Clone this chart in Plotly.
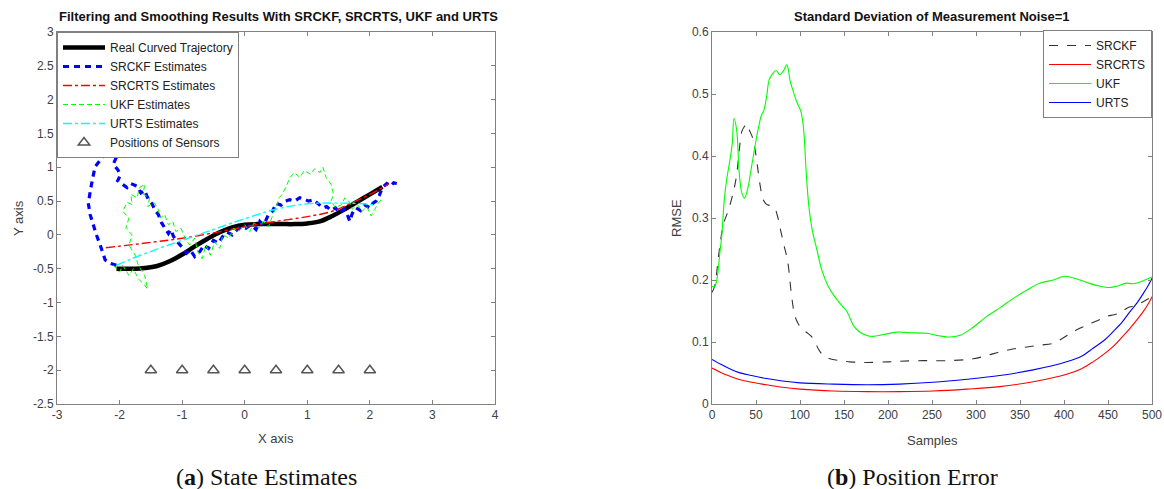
import plotly.graph_objects as go

# ---------------- Left panel data (state estimates) ----------------
real_x = [-2.05, -1.9, -1.75, -1.6, -1.4, -1.2, -1.0, -0.8, -0.6, -0.4, -0.2, 0.0, 0.2, 0.4, 0.6, 0.8, 1.0, 1.2, 1.4, 1.6, 1.8, 2.0, 2.2]
real_y = [-0.5, -0.5, -0.5, -0.49, -0.46, -0.39, -0.29, -0.17, -0.06, 0.04, 0.11, 0.15, 0.16, 0.16, 0.16, 0.16, 0.17, 0.2, 0.28, 0.38, 0.49, 0.6, 0.71]

srckf_x = [-2.05, -2.15, -2.23, -2.27, -2.31, -2.37, -2.42, -2.47, -2.5, -2.48, -2.45, -2.42, -2.39, -2.33, -2.29, -2.22, -2.15, -2.07, -2.12, -2.05, -2.1, -2.02, -1.99, -2.03, -1.94, -1.88, -1.82, -1.72, -1.66, -1.6, -1.54, -1.48, -1.43, -1.38, -1.33, -1.27, -1.22, -1.18, -1.14, -1.08, -1.0, -0.93, -0.87, -0.8, -0.72, -0.65, -0.58, -0.5, -0.42, -0.35, -0.28, -0.2, -0.12, -0.05, 0.02, 0.1, 0.18, 0.24, 0.3, 0.38, 0.45, 0.5, 0.58, 0.65, 0.72, 0.8, 0.88, 0.95, 1.02, 1.1, 1.18, 1.25, 1.31, 1.38, 1.45, 1.52, 1.58, 1.64, 1.68, 1.72, 1.78, 1.85, 1.92, 2.0, 2.05, 2.1, 2.15, 2.2, 2.27, 2.33, 2.38, 2.43]
srckf_y = [-0.45, -0.42, -0.37, -0.25, -0.15, 0.0, 0.14, 0.3, 0.47, 0.6, 0.74, 0.88, 1.01, 1.08, 1.13, 1.2, 1.28, 1.33, 1.2, 1.15, 1.05, 0.95, 0.88, 0.8, 0.74, 0.7, 0.76, 0.72, 0.62, 0.66, 0.52, 0.46, 0.36, 0.3, 0.18, 0.1, 0.02, 0.08, -0.02, -0.1, -0.18, -0.27, -0.22, -0.32, -0.25, -0.15, -0.2, -0.08, -0.12, -0.02, 0.04, 0.0, 0.08, 0.12, 0.1, 0.15, 0.08, 0.2, 0.14, 0.3, 0.36, 0.47, 0.44, 0.5, 0.52, 0.5, 0.55, 0.53, 0.5, 0.52, 0.45, 0.4, 0.42, 0.36, 0.4, 0.32, 0.38, 0.3, 0.2, 0.32, 0.4, 0.36, 0.44, 0.4, 0.47, 0.5, 0.58, 0.7, 0.76, 0.72, 0.77, 0.76]

srcrts_x = [-2.22, -1.5, -1.0, -0.5, 0.0, 0.5, 1.0, 1.4, 1.7, 2.0, 2.3]
srcrts_y = [-0.19, -0.11, -0.05, 0.03, 0.12, 0.2, 0.27, 0.35, 0.47, 0.6, 0.75]

ukf_x = [-2.1, -2.0, -1.95, -1.85, -1.78, -1.7, -1.62, -1.55, -1.6, -1.7, -1.75, -1.85, -1.8, -1.9, -1.85, -1.95, -1.88, -1.8, -1.82, -1.72, -1.68, -1.6, -1.62, -1.52, -1.55, -1.45, -1.38, -1.35, -1.28, -1.22, -1.15, -1.1, -1.02, -0.95, -0.88, -0.8, -0.75, -0.68, -0.62, -0.55, -0.48, -0.4, -0.35, -0.25, -0.18, -0.1, 0.0, 0.08, 0.15, 0.22, 0.3, 0.38, 0.45, 0.5, 0.55, 0.6, 0.68, 0.72, 0.8, 0.88, 0.95, 1.05, 1.12, 1.2, 1.25, 1.3, 1.38, 1.42, 1.38, 1.45, 1.55, 1.6, 1.68, 1.72, 1.8, 1.88, 1.95, 2.02, 2.08, 2.12, 2.18]
ukf_y = [-0.45, -0.55, -0.45, -0.6, -0.5, -0.65, -0.72, -0.8, -0.6, -0.45, -0.3, -0.15, 0.0, 0.1, 0.25, 0.35, 0.48, 0.45, 0.6, 0.55, 0.7, 0.75, 0.6, 0.55, 0.42, 0.48, 0.38, 0.25, 0.3, 0.15, 0.2, 0.05, 0.1, -0.05, -0.15, -0.05, -0.25, -0.35, -0.15, -0.3, -0.1, -0.2, 0.0, -0.05, 0.1, 0.05, 0.15, 0.05, 0.18, 0.1, 0.2, 0.12, 0.3, 0.4, 0.55, 0.6, 0.75, 0.85, 0.92, 0.85, 0.95, 0.9, 0.98, 0.92, 1.0, 0.85, 0.75, 0.6, 0.5, 0.4, 0.45, 0.55, 0.48, 0.38, 0.45, 0.35, 0.42, 0.28, 0.38, 0.45, 0.52]

urts_x = [-2.05, -1.8, -1.4, -1.0, -0.5, 0.0, 0.5, 1.0, 1.5, 1.9, 2.1]
urts_y = [-0.45, -0.35, -0.21, -0.08, 0.08, 0.24, 0.38, 0.46, 0.47, 0.46, 0.44]

sensor_x = [-1.5, -1.0, -0.5, 0.0, 0.5, 1.0, 1.5, 2.0]
sensor_y = [-2, -2, -2, -2, -2, -2, -2, -2]

left_xticks = [-3, -2, -1, 0, 1, 2, 3, 4]
left_xlabels = ["-3", "-2", "-1", "0", "1", "2", "3", "4"]
left_yticks = [-2.5, -2, -1.5, -1, -0.5, 0, 0.5, 1, 1.5, 2, 2.5, 3]
left_ylabels = ["-2.5", "-2", "-1.5", "-1", "-0.5", "0", "0.5", "1", "1.5", "2", "2.5", "3"]

# ---------------- Right panel data (RMSE) ----------------
ukf_s = [0, 3, 6, 9, 11, 14, 17, 20, 23, 25, 28, 31, 34, 37, 41, 44, 47, 50, 53, 56, 59, 62, 65, 69, 73, 77, 81, 85, 89, 93, 97, 101, 104, 107, 110, 114, 119, 125, 132, 140, 148, 153, 157, 161, 167, 175, 183, 195, 210, 225, 244, 258, 270, 282, 295, 312, 327, 342, 357, 373, 388, 401, 414, 428, 441, 452, 460, 471, 477, 485, 492, 500]
ukf_rmse = [0.19, 0.189, 0.205, 0.245, 0.27, 0.33, 0.365, 0.39, 0.42, 0.461, 0.442, 0.372, 0.34, 0.332, 0.35, 0.375, 0.40, 0.425, 0.447, 0.465, 0.474, 0.495, 0.523, 0.533, 0.538, 0.531, 0.537, 0.547, 0.52, 0.501, 0.485, 0.472, 0.445, 0.375, 0.32, 0.28, 0.25, 0.215, 0.19, 0.172, 0.158, 0.15, 0.138, 0.126, 0.117, 0.111, 0.109, 0.112, 0.116, 0.115, 0.114, 0.11, 0.108, 0.111, 0.122, 0.141, 0.155, 0.17, 0.183, 0.195, 0.2, 0.206, 0.202, 0.195, 0.19, 0.188, 0.19, 0.195, 0.194, 0.196, 0.2, 0.205]

srckf_s = [0, 3, 8, 13, 18, 24, 28, 31, 34, 37, 40, 43, 46, 49, 52, 55, 58, 62, 66, 71, 75, 78, 82, 86, 90, 93, 96, 100, 104, 108, 113, 117, 122, 127, 134, 145, 157, 175, 200, 214, 240, 270, 297, 312, 327, 343, 358, 373, 388, 403, 415, 426, 437, 448, 457, 464, 472, 479, 490, 500]
srckf_rmse = [0.18, 0.19, 0.245, 0.29, 0.31, 0.34, 0.37, 0.41, 0.44, 0.448, 0.452, 0.44, 0.43, 0.41, 0.38, 0.35, 0.33, 0.322, 0.32, 0.316, 0.3, 0.28, 0.255, 0.23, 0.18, 0.15, 0.135, 0.125, 0.119, 0.115, 0.109, 0.1, 0.086, 0.078, 0.073, 0.07, 0.068, 0.067, 0.068, 0.069, 0.07, 0.07, 0.073, 0.078, 0.084, 0.089, 0.092, 0.095, 0.098, 0.11, 0.12, 0.127, 0.134, 0.141, 0.144, 0.147, 0.155, 0.158, 0.165, 0.173]

smooth_s = [0, 10, 20, 30, 45, 62, 80, 100, 138, 176, 213, 251, 290, 327, 365, 403, 420, 433, 445, 456, 466, 475, 483, 490, 496, 500]
urts_rmse = [0.072, 0.064, 0.057, 0.051, 0.046, 0.041, 0.037, 0.034, 0.032, 0.031, 0.032, 0.035, 0.04, 0.046, 0.055, 0.068, 0.077, 0.09, 0.102, 0.117, 0.132, 0.149, 0.163, 0.178, 0.192, 0.203]
srcrts_rmse = [0.058, 0.051, 0.045, 0.04, 0.035, 0.031, 0.027, 0.024, 0.021, 0.02, 0.02, 0.021, 0.024, 0.028, 0.036, 0.048, 0.057, 0.068, 0.08, 0.093, 0.108, 0.122, 0.136, 0.149, 0.162, 0.173]

right_xticks = [0, 50, 100, 150, 200, 250, 300, 350, 400, 450, 500]
right_yticks = [0, 0.1, 0.2, 0.3, 0.4, 0.5, 0.6]
right_ylabels = ["0", "0.1", "0.2", "0.3", "0.4", "0.5", "0.6"]

W, H = 1164, 489
FONT = "Liberation Sans, Arial, sans-serif"
TICKC = "#404040"
AXC = "#808080"

def px(x):
    return x / W

def py(y):
    return 1 - y / H

fig = go.Figure()

# Left traces
fig.add_trace(go.Scatter(x=real_x, y=real_y, mode="lines", name="Real Curved Trajectory",
                         line=dict(color="black", width=4.5), line_shape="spline",
                         xaxis="x", yaxis="y", legend="legend"))
fig.add_trace(go.Scatter(x=srckf_x, y=srckf_y, mode="lines", name="SRCKF Estimates",
                         line=dict(color="#0000ff", width=3.2, dash="6px,5px"),
                         xaxis="x", yaxis="y", legend="legend"))
fig.add_trace(go.Scatter(x=srcrts_x, y=srcrts_y, mode="lines", name="SRCRTS Estimates",
                         line=dict(color="#ff0000", width=1.4, dash="dashdot"), line_shape="spline",
                         xaxis="x", yaxis="y", legend="legend"))
fig.add_trace(go.Scatter(x=ukf_x, y=ukf_y, mode="lines", name="UKF Estimates",
                         line=dict(color="#00ff00", width=1, dash="5px,3px"),
                         xaxis="x", yaxis="y", legend="legend"))
fig.add_trace(go.Scatter(x=urts_x, y=urts_y, mode="lines", name="URTS Estimates",
                         line=dict(color="#00ffff", width=1.4, dash="dashdot"), line_shape="spline",
                         xaxis="x", yaxis="y", legend="legend"))
fig.add_trace(go.Scatter(x=sensor_x, y=sensor_y, mode="markers", name="Positions of Sensors",
                         marker=dict(symbol="triangle-up-open", size=10, color="#555555",
                                     line=dict(width=1.5, color="#555555")),
                         xaxis="x", yaxis="y", legend="legend"))

# Right traces
fig.add_trace(go.Scatter(x=srckf_s, y=srckf_rmse, mode="lines", name="SRCKF",
                         line=dict(color="#333333", width=1.1, dash="dash"), line_shape="spline",
                         xaxis="x2", yaxis="y2", legend="legend2"))
fig.add_trace(go.Scatter(x=smooth_s, y=srcrts_rmse, mode="lines", name="SRCRTS",
                         line=dict(color="#ff0000", width=1.1), line_shape="spline",
                         xaxis="x2", yaxis="y2", legend="legend2"))
fig.add_trace(go.Scatter(x=ukf_s, y=ukf_rmse, mode="lines", name="UKF",
                         line=dict(color="#00ff00", width=1.1), line_shape="spline",
                         xaxis="x2", yaxis="y2", legend="legend2"))
fig.add_trace(go.Scatter(x=smooth_s, y=urts_rmse, mode="lines", name="URTS",
                         line=dict(color="#0000ff", width=1.1), line_shape="spline",
                         xaxis="x2", yaxis="y2", legend="legend2"))

axis_common = dict(showline=True, linecolor=AXC, linewidth=1, mirror="ticks", ticks="inside",
                   ticklen=4, tickcolor=AXC, showgrid=False, zeroline=False, automargin=False,
                   tickfont=dict(family=FONT, size=12, color=TICKC))

ydom = [py(404), py(32)]
fig.update_layout(
    width=W, height=H, margin=dict(l=0, r=0, t=0, b=0, pad=0, autoexpand=False),
    paper_bgcolor="white", plot_bgcolor="white",
    font=dict(family=FONT, size=12, color="#222222"),
    xaxis=dict(domain=[px(57), px(495)], range=[-3, 4], tickvals=left_xticks, ticktext=left_xlabels,
               anchor="y", **axis_common),
    yaxis=dict(domain=ydom, range=[-2.5, 3], tickvals=left_yticks, ticktext=left_ylabels,
               anchor="x", **axis_common),
    xaxis2=dict(domain=[px(712), px(1152)], range=[0, 500], tickvals=right_xticks,
                ticktext=[str(v) for v in right_xticks], anchor="y2", **axis_common),
    yaxis2=dict(domain=ydom, range=[0, 0.6], tickvals=right_yticks, ticktext=right_ylabels,
                anchor="x2", **axis_common),
    legend=dict(x=px(57), y=py(32), xanchor="left", yanchor="top", bgcolor="white",
                bordercolor=AXC, borderwidth=1, font=dict(family=FONT, size=12, color="#222222"),
                tracegroupgap=0, itemwidth=42),
    legend2=dict(x=px(1152), y=py(30), xanchor="right", yanchor="top", bgcolor="white",
                 bordercolor=AXC, borderwidth=1, font=dict(family=FONT, size=12, color="#222222"),
                 tracegroupgap=0, itemwidth=42),
    showlegend=True,
)

ann = []
ann.append(dict(text="<b>Filtering and Smoothing Results With SRCKF, SRCRTS, UKF and URTS</b>",
                x=px(278), y=py(17), xref="paper", yref="paper", showarrow=False,
                font=dict(family=FONT, size=13, color="#111111"), xanchor="center", yanchor="middle"))
ann.append(dict(text="<b>Standard Deviation of Measurement Noise=1</b>",
                x=px(932), y=py(17), xref="paper", yref="paper", showarrow=False,
                font=dict(family=FONT, size=13, color="#111111"), xanchor="center", yanchor="middle"))
ann.append(dict(text="X axis", x=px(276), y=py(438), xref="paper", yref="paper", showarrow=False,
                font=dict(family=FONT, size=13, color="#404040"), xanchor="center", yanchor="middle"))
ann.append(dict(text="Y axis", x=px(18), y=py(218), xref="paper", yref="paper", showarrow=False,
                textangle=-90, font=dict(family=FONT, size=13, color="#404040"),
                xanchor="center", yanchor="middle"))
ann.append(dict(text="Samples", x=px(932), y=py(440), xref="paper", yref="paper", showarrow=False,
                font=dict(family=FONT, size=13, color="#404040"), xanchor="center", yanchor="middle"))
ann.append(dict(text="RMSE", x=px(676), y=py(218), xref="paper", yref="paper", showarrow=False,
                textangle=-90, font=dict(family=FONT, size=13, color="#404040"),
                xanchor="center", yanchor="middle"))
ann.append(dict(text="(<b>a</b>) State Estimates", x=px(266), y=py(477), xref="paper", yref="paper",
                showarrow=False, font=dict(family="Liberation Serif, serif", size=24, color="#111111"),
                xanchor="center", yanchor="middle"))
ann.append(dict(text="(<b>b</b>) Position Error", x=px(912), y=py(477), xref="paper", yref="paper",
                showarrow=False, font=dict(family="Liberation Serif, serif", size=24, color="#111111"),
                xanchor="center", yanchor="middle"))
fig.update_layout(annotations=ann)

fig.write_html("out.html", config={"displayModeBar": False},
               post_script="document.body.style.margin='0px';document.body.style.overflow='hidden';")
